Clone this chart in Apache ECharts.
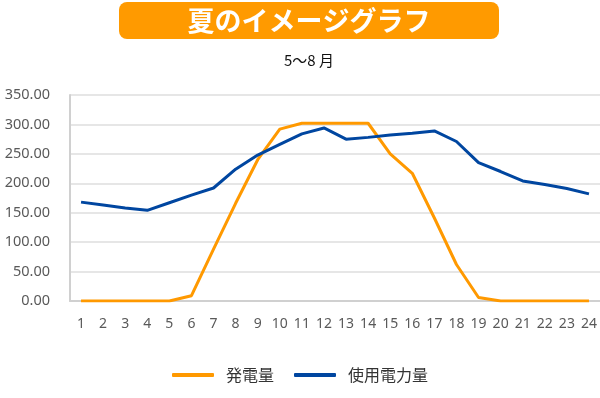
<!DOCTYPE html>
<html><head><meta charset="utf-8">
<script src="https://cdn.jsdelivr.net/npm/echarts@6/dist/echarts.min.js"></script>
<style>html,body{margin:0;padding:0;background:#fff}#c{width:600px;height:398px}</style>
</head><body><div id="c"></div>
<script>
const titleText = "夏のイメージグラフ";
const subtitleText = "5〜8 月";
const hours = ["1","2","3","4","5","6","7","8","9","10","11","12","13","14","15","16","17","18","19","20","21","22","23","24"];
const generation = [0,0,0,0,0,9,88,166,240,292,302,302,302,302,250,217,141,62,6,0,0,0,0,0];
const usage = [168,163,158,154,167,180,192,224,248,266,284,294,275,278,282,285,289,271,235,220,204,198,191,182];
const seriesNames = ["発電量","使用電力量"];
const yTicks = {min:0,max:350,interval:50};

const chart = echarts.init(document.getElementById('c'));
const font = "'Noto Sans CJK JP','Noto Sans',sans-serif";
chart.setOption({
  animation:false,
  textStyle:{fontFamily:font},
  graphic:[
    {type:'rect',shape:{x:119,y:2,width:380,height:37,r:8},style:{fill:'#FF9A00'}},
    {type:'text',x:309,y:21,style:{text:titleText,fill:'#fff',font:"bold 27px 'Noto Sans CJK JP'",align:'center',verticalAlign:'middle'}},
    {type:'text',x:309,y:60,style:{text:subtitleText,fill:'#111',font:"15px 'Noto Sans CJK JP'",align:'center',verticalAlign:'middle'}}
  ],
  legend:{
    bottom:10,left:'center',itemWidth:42,itemHeight:4,itemGap:20,
    icon:'roundRect',
    textStyle:{fontSize:16,color:'#333',fontFamily:font,padding:[0,0,0,7]},
    data:seriesNames
  },
  grid:{left:70,right:0,top:95,bottom:97,containLabel:false},
  xAxis:{
    type:'category',data:hours,boundaryGap:true,
    axisLine:{lineStyle:{color:'#d0d0d0',width:2}},
    axisTick:{show:false},
    axisLabel:{color:'#595959',fontSize:14,margin:16,interval:0,fontFamily:"'Noto Sans',sans-serif"}
  },
  yAxis:{
    type:'value',min:yTicks.min,max:yTicks.max,interval:yTicks.interval,
    axisLine:{show:true,lineStyle:{color:'#d0d0d0',width:2}},
    splitLine:{lineStyle:{color:'#dedede',width:1.5}},
    axisLabel:{color:'#595959',fontSize:14.5,margin:20,formatter:v=>v.toFixed(2),fontFamily:"'Noto Sans',sans-serif"}
  },
  series:[
    {name:seriesNames[0],type:'line',data:generation,symbol:'none',lineStyle:{color:'#FF9900',width:3},itemStyle:{color:'#FF9900'}},
    {name:seriesNames[1],type:'line',data:usage,symbol:'none',lineStyle:{color:'#0046A0',width:3},itemStyle:{color:'#0046A0'}}
  ]
});
</script></body></html>
